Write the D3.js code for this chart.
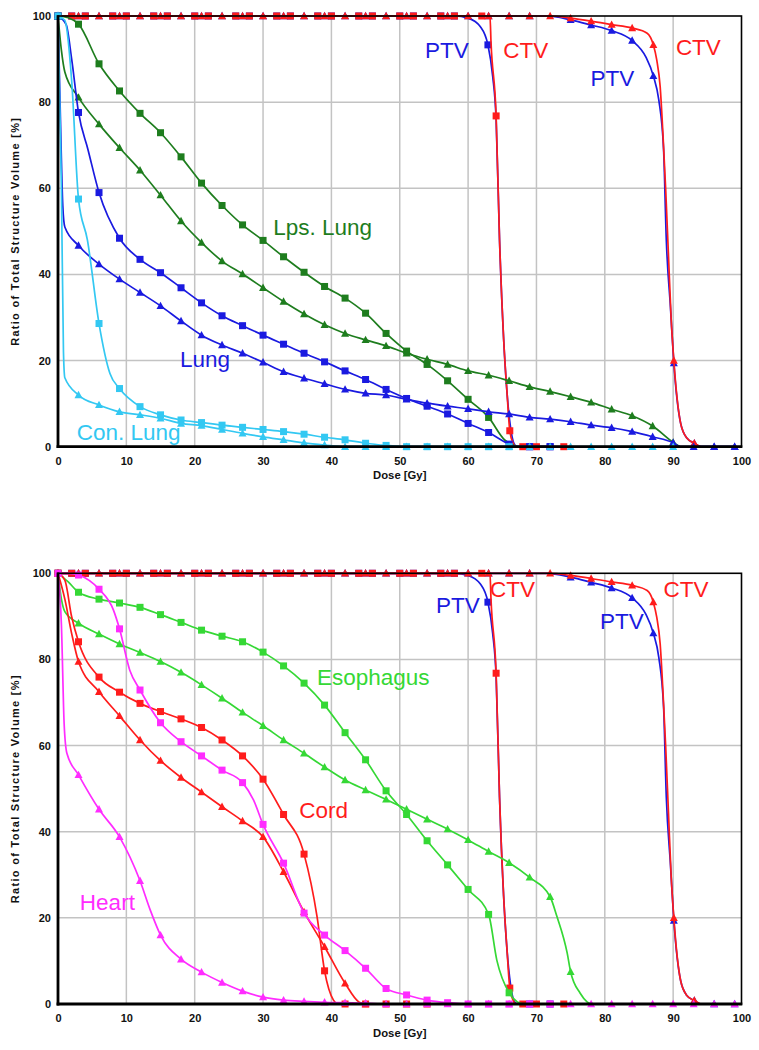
<!DOCTYPE html>
<html><head><meta charset="utf-8">
<script src="https://cdn.jsdelivr.net/npm/d3@7"></script>
<style>body{margin:0;background:#fff}svg{display:block}</style>
</head><body>
<svg id="c" width="759" height="1050"></svg>
<script>
// ---------- axis ticks ----------
const doseTicks = [0,10,20,30,40,50,60,70,80,90,100];
const volTicks = [0,20,40,60,80,100];

// ---------- target volumes (shared by both panels) : [dose Gy, volume %, marker?] ----------
const ptvSq = [[0,100,1],[2,100,1],[4,100,1],[8,100,1],[10,100,1],[14,100,1],[16,100,1],[20,100,1],[22,100,1],[26,100,1],[28,100,1],[32,100,1],[34,100,1],[38,100,1],[40,100,1],[44,100,1],[46,100,1],[50,100,1],[52,100,1],[56,100,1],[58,100,1],[60,99.5,0],[61.8,97.5,0],[62.9,93.3,1],[63.6,86,0],[64.1,76,0],[64.6,48,0],[65.2,25,0],[65.7,12.4,0],[66.2,4.6,0],[66.7,0.8,0],[67.2,0,0],[69,0,1],[72,0,1]];
const ctvSq = [[0,100,1],[2,100,1],[4,100,1],[8,100,1],[10,100,1],[14,100,1],[16,100,1],[20,100,1],[22,100,1],[26,100,1],[28,100,1],[32,100,1],[34,100,1],[38,100,1],[40,100,1],[44,100,1],[46,100,1],[50,100,1],[52,100,1],[56,100,1],[58,100,1],[62,100,1],[63.2,100,0],[63.35,94,0],[64.1,76.8,1],[64.6,48,0],[65.2,25,0],[65.7,12.4,0],[66.1,3.7,1],[66.6,0.8,0],[67,0,0],[68,0,1],[70,0,1],[74,0,1]];
const ptvTri = [[0,100,1],[3,100,1],[6,100,1],[9,100,1],[12,100,1],[15,100,1],[18,100,1],[21,100,1],[24,100,1],[27,100,1],[30,100,1],[33,100,1],[36,100,1],[39,100,1],[42,100,1],[45,100,1],[48,100,1],[51,100,1],[54,100,1],[57,100,1],[60,100,1],[63,100,1],[66,100,1],[69,100,1],[71.5,100,0],[75,99.1,1],[78,97.9,1],[81,96.6,1],[84,94.3,1],[86,90.5,0],[87.1,86.1,1],[87.9,80.5,0],[88.6,69,0],[89,48,0],[89.6,32.5,0],[90.1,19.4,1],[91.1,5.4,0],[92,2,0],[93.1,0.8,1],[94,0,0],[96,0,1],[99,0,1]];
const ctvTri = [[0,100,1],[3,100,1],[6,100,1],[9,100,1],[12,100,1],[15,100,1],[18,100,1],[21,100,1],[24,100,1],[27,100,1],[30,100,1],[33,100,1],[36,100,1],[39,100,1],[42,100,1],[45,100,1],[48,100,1],[51,100,1],[54,100,1],[57,100,1],[60,100,1],[63,100,1],[66,100,1],[69,100,1],[72,100,1],[75,99.5,1],[78,98.8,1],[81,98.0,1],[84,97.2,1],[86.2,96,0],[87.1,93.3,1],[87.6,89.8,0],[88.1,83.6,0],[88.5,72.8,0],[88.9,60,0],[89.3,45,0],[89.7,30,0],[90.1,20,1],[91.1,5.4,0],[92,2,0],[93.1,0.8,1],[94,0,0]];

// ---------- top panel organs ----------
const lpsLungSq = [[0,100,1],[1.5,99.6,0],[3,98.1,1],[6,88.9,1],[9,82.6,1],[12,77.4,1],[15,72.9,1],[18,67.3,1],[21,61.2,1],[24,56.0,1],[27,51.5,1],[30,47.9,1],[33,44.1,1],[36,40.5,1],[39,37.2,1],[42,34.5,1],[45,31.0,1],[48,26.3,1],[51,22.2,1],[54,19.1,1],[57,15.3,1],[60,11.0,1],[63,6.8,1],[65.4,1.5,0],[66.4,0.5,0],[67.2,0,0]];
const lpsLungTri = [[0,100,1],[0.5,92,0],[1,87,0],[3,81.1,1],[6,74.9,1],[9,69.4,1],[12,64.2,1],[15,58.4,1],[18,52.4,1],[21,47.4,1],[24,43.1,1],[27,40.1,1],[30,36.9,1],[33,33.7,1],[36,30.8,1],[39,28.3,1],[42,26.3,1],[45,24.8,1],[48,23.4,1],[51,21.7,1],[54,20.3,1],[57,19.1,1],[60,17.6,1],[63,16.6,1],[66,15.3,1],[69,13.9,1],[72,12.8,1],[75,11.6,1],[78,10.3,1],[81,8.7,1],[84,7.2,1],[87,4.8,1],[90,1.0,1],[91,0,0]];
const lungSq = [[0,100,1],[1.2,98,0],[2,90,0],[3,77.6,1],[4.4,68.9,0],[6,59.0,1],[9,48.4,1],[12,43.5,1],[15,40.4,1],[18,36.9,1],[21,33.4,1],[24,30.4,1],[27,28.1,1],[30,25.9,1],[33,23.8,1],[36,21.7,1],[39,19.7,1],[42,17.6,1],[45,15.6,1],[48,13.3,1],[51,11.2,1],[54,9.4,1],[57,7.6,1],[60,5.4,1],[63,3.3,1],[66,0.6,1],[67,0,0],[69,0,1],[72,0,1]];
const lungTri = [[0,100,1],[0.3,80,0],[0.7,56,0],[1,51,0],[3,46.7,1],[6,42.4,1],[9,38.9,1],[12,35.8,1],[15,32.7,1],[18,29.2,1],[21,25.9,1],[24,23.6,1],[27,21.7,1],[30,19.6,1],[33,17.4,1],[36,15.9,1],[39,14.6,1],[42,13.3,1],[45,12.4,1],[48,12.0,1],[51,11.0,1],[54,10.1,1],[57,9.4,1],[60,8.8,1],[63,8.1,1],[66,7.6,1],[69,6.8,1],[72,6.4,1],[75,5.8,1],[78,5.0,1],[81,4.4,1],[84,3.5,1],[87,2.3,1],[90,0.9,1],[91,0,0],[93,0,1],[96,0,1],[99,0,1]];
const conLungSq = [[0,100,1],[1,99,0],[2,85,0],[3,57.5,1],[4.3,48,0],[6,28.6,1],[7.6,17,0],[9,13.5,1],[12,9.3,1],[15,7.4,1],[18,6.2,1],[21,5.6,1],[24,5.0,1],[27,4.5,1],[30,4.0,1],[33,3.5,1],[36,2.9,1],[39,2.2,1],[42,1.6,1],[45,0.8,1],[48,0.3,1],[51,0,1],[54,0,1],[57,0,1],[60,0,1],[63,0,1],[66,0,1]];
const conLungTri = [[0,100,1],[0.5,60,0],[0.8,22,0],[1,16,0],[3,12.0,1],[6,9.7,1],[9,8.1,1],[12,7.4,1],[15,6.6,1],[18,5.4,1],[21,4.9,1],[24,4.0,1],[27,3.1,1],[30,2.3,1],[33,1.6,1],[36,0.9,1],[39,0.4,1],[42,0,1],[45,0,1],[48,0,1],[51,0,1],[54,0,1],[57,0,1],[60,0,1],[63,0,1],[66,0,1],[69,0,1],[72,0,1],[75,0,1],[78,0,1],[81,0,1],[84,0,1],[87,0,1],[90,0,1]];

// ---------- bottom panel organs ----------
const esoSq = [[0,100,1],[1.5,98,0],[3,95.6,1],[6,94.0,1],[9,93.1,1],[12,92.1,1],[15,90.4,1],[18,88.6,1],[21,86.8,1],[24,85.4,1],[27,84.1,1],[30,81.7,1],[33,78.5,1],[36,74.5,1],[39,69.4,1],[42,63.0,1],[45,56.7,1],[48,49.5,1],[51,44.0,1],[54,37.9,1],[57,32.3,1],[60,26.6,1],[63,20.8,1],[64.2,10.2,0],[66,2.6,1],[67.2,0.5,0],[68,0,0]];
const esoTri = [[0,100,1],[0.5,94,0],[1,91.1,0],[3,88.4,1],[6,85.9,1],[9,83.6,1],[12,81.6,1],[15,79.5,1],[18,77.0,1],[21,74.1,1],[24,71.0,1],[27,67.7,1],[30,64.6,1],[33,61.3,1],[36,58.2,1],[39,55.0,1],[42,52.0,1],[45,49.7,1],[48,47.5,1],[51,45.2,1],[54,42.9,1],[57,40.6,1],[60,38.1,1],[63,35.4,1],[66,32.8,1],[69,29.4,1],[72,24.9,1],[73,20.3,0],[74.5,11.8,0],[75,7.5,1],[76.4,2.5,0],[77.4,0.5,0],[78,0,0]];
const cordSq = [[0,100,1],[1,98.4,0],[2,89.9,0],[3,84.1,1],[6,75.9,1],[9,72.4,1],[12,69.8,1],[15,67.9,1],[18,66.2,1],[21,64.2,1],[24,61.3,1],[27,57.6,1],[30,52.2,1],[33,44.0,1],[36,34.8,1],[37.9,20.3,0],[39,7.7,1],[40.3,0.9,0],[41,0,0],[42,0,1],[45,0,1],[48,0,1],[51,0,1],[54,0,1]];
const cordTri = [[0,100,1],[1,94,0],[2,86,0],[3,79.5,1],[6,72.5,1],[9,66.9,1],[12,61.3,1],[15,56.5,1],[18,52.6,1],[21,49.2,1],[24,45.8,1],[27,42.5,1],[30,38.8,1],[33,30.7,1],[36,21.4,1],[39,13.3,1],[42,4.8,1],[44,0.5,0],[45,0,1]];
const heartSq = [[0,100,1],[1.5,100,0],[3,99.6,1],[6,96.3,1],[8.1,91.5,0],[9,87.1,1],[10.5,77.5,0],[12,72.9,1],[15,65.3,1],[18,60.9,1],[21,57.6,1],[24,54.3,1],[27,51.4,1],[28.6,47.4,0],[30,41.7,1],[33,32.7,1],[36,21.1,1],[39,16.0,1],[42,12.4,1],[45,8.3,1],[48,3.6,1],[51,2.1,1],[54,0.9,1],[57,0.3,1],[60,0,1],[63,0,1],[66,0,1],[69,0,1],[72,0,1]];
const heartTri = [[0,100,1],[0.5,88,0],[0.9,65,0],[1.3,58.2,0],[3,53.2,1],[6,45.2,1],[9,38.8,1],[12,28.6,1],[13.5,21.8,0],[15,16.0,1],[18,10.4,1],[21,7.4,1],[24,5.0,1],[27,3.0,1],[30,1.6,1],[33,0.9,1],[36,0.6,1],[39,0.4,1],[42,0.3,1],[45,0.2,1],[48,0,1],[51,0,1],[54,0,1],[57,0,1],[60,0,1],[63,0,1],[66,0,1],[69,0,1],[72,0,1],[75,0,1],[78,0,1],[81,0,1],[84,0,1],[87,0,1],[90,0,1],[93,0,1],[96,0,1],[99,0,1]];

// ---------- annotation texts: [text, dose, volume] ----------
const topLabels = [["PTV",53.7,90.2,"blue"],["CTV",65.15,90.2,"red"],["PTV",77.9,83.7,"blue"],["CTV",90.4,90.9,"red"],["Lps. Lung",31.5,49.2,"dkgreen"],["Lung",17.85,18.5,"blue"],["Con. Lung",2.74,1.55,"cyan"]];
const botLabels = [["PTV",55.3,90.7,"blue"],["CTV",63.2,94.4,"red"],["PTV",79.3,87.0,"blue"],["CTV",88.6,94.4,"red"],["Esophagus",37.9,74.1,"green"],["Cord",35.3,43.1,"red"],["Heart",3.2,21.8,"magenta"]];

const COL = {blue:"#1a1ae0", red:"#ff1c1c", dkgreen:"#1e7d1e", green:"#35d835", cyan:"#33c8f2", magenta:"#ff2cff"};
const FONT = "'Liberation Sans', Arial, Helvetica, sans-serif";

const targets = [
  {d:ptvSq,c:"blue",s:"sq"},{d:ptvTri,c:"blue",s:"tri"},
  {d:ctvSq,c:"red",s:"sq"},{d:ctvTri,c:"red",s:"tri"}
];
const topSeries = targets.concat([
  {d:lpsLungSq,c:"dkgreen",s:"sq"},{d:lpsLungTri,c:"dkgreen",s:"tri"},
  {d:lungSq,c:"blue",s:"sq"},{d:lungTri,c:"blue",s:"tri"},
  {d:conLungSq,c:"cyan",s:"sq"},{d:conLungTri,c:"cyan",s:"tri"}
]);
const botSeries = targets.concat([
  {d:esoSq,c:"green",s:"sq"},{d:esoTri,c:"green",s:"tri"},
  {d:cordSq,c:"red",s:"sq"},{d:cordTri,c:"red",s:"tri"},
  {d:heartSq,c:"magenta",s:"sq"},{d:heartTri,c:"magenta",s:"tri"}
]);

const svg = d3.select("#c");
const X0 = 58, X1 = 741.5;

function panel(yTop, yBot, series, labels) {
  const x = d3.scaleLinear().domain([0,100]).range([X0,X1]);
  const y = d3.scaleLinear().domain([0,100]).range([yBot,yTop]);
  const g = svg.append("g");

  // grid
  g.append("g").selectAll("line").data(doseTicks.filter(d=>d>0&&d<100)).join("line")
    .attr("x1",d=>x(d)).attr("x2",d=>x(d)).attr("y1",yTop).attr("y2",yBot)
    .attr("stroke","#c3c3c3").attr("stroke-width",1.5);
  g.append("g").selectAll("line").data(volTicks.filter(d=>d>0&&d<100)).join("line")
    .attr("y1",d=>y(d)).attr("y2",d=>y(d)).attr("x1",X0).attr("x2",X1)
    .attr("stroke","#c3c3c3").attr("stroke-width",1.5);

  // axes
  const ax = g.append("g").attr("transform",`translate(0,${yBot})`)
    .call(d3.axisBottom(x).tickValues(doseTicks).tickSize(0).tickPadding(10.5));
  const ay = g.append("g").attr("transform",`translate(${X0},0)`)
    .call(d3.axisLeft(y).tickValues(volTicks).tickSize(0).tickPadding(7));
  [ax,ay].forEach(a=>{
    a.select(".domain").remove();
    a.selectAll("text").attr("font-family",FONT).attr("font-weight","bold")
      .attr("font-size",11).attr("fill","#111");
  });

  // series
  const line = d3.line().x(d=>x(d[0])).y(d=>y(d[1])).curve(d3.curveMonotoneX);
  series.forEach(s=>{
    const col = COL[s.c];
    const sg = g.append("g");
    sg.append("path").datum(s.d).attr("d",line).attr("fill","none")
      .attr("stroke",col).attr("stroke-width",1.7).attr("stroke-linejoin","round");
    const m = s.d.filter(d=>d[2]===1);
    if (s.s==="sq") {
      sg.selectAll("rect").data(m).join("rect")
        .attr("x",d=>x(d[0])-3.5).attr("y",d=>y(d[1])-3.5)
        .attr("width",7).attr("height",7).attr("fill",col);
    } else {
      sg.selectAll("path.t").data(m).join("path").attr("class","t")
        .attr("d",d=>{const cx=x(d[0]),cy=y(d[1]);return `M${cx},${cy-4.2}L${cx+4},${cy+3.2}L${cx-4},${cy+3.2}Z`;})
        .attr("fill",col);
    }
  });

  // frame on top
  g.append("rect").attr("x",X0).attr("y",yTop).attr("width",X1-X0).attr("height",yBot-yTop)
    .attr("fill","none").attr("stroke","#000").attr("stroke-width",1.6);
  g.append("line").attr("x1",X0).attr("x2",X0).attr("y1",yTop-0.8).attr("y2",yBot+1.4)
    .attr("stroke","#000").attr("stroke-width",2.8);
  g.append("line").attr("x1",X0-1.4).attr("x2",X1+0.8).attr("y1",yBot).attr("y2",yBot)
    .attr("stroke","#000").attr("stroke-width",2.8);

  // axis titles
  g.append("text").attr("x",(X0+X1)/2).attr("y",yBot+32.5).attr("text-anchor","middle")
    .attr("font-family",FONT).attr("font-weight","bold").attr("font-size",11.3)
    .attr("fill","#111").text("Dose [Gy]");
  g.append("text").attr("transform",`translate(18.5,${(yTop+yBot)/2}) rotate(-90)`)
    .attr("text-anchor","middle").attr("font-family",FONT).attr("font-weight","bold")
    .attr("font-size",11).attr("letter-spacing",1.3).attr("fill","#111")
    .text("Ratio of Total Structure Volume [%]");

  // curve labels
  g.append("g").selectAll("text").data(labels).join("text")
    .attr("x",d=>x(d[1])).attr("y",d=>y(d[2]))
    .attr("font-family",FONT).attr("font-size",22.5).attr("fill",d=>COL[d[3]])
    .text(d=>d[0]);
}

panel(16, 446.7, topSeries, topLabels);
panel(573.3, 1004, botSeries, botLabels);
</script>
</body></html>
